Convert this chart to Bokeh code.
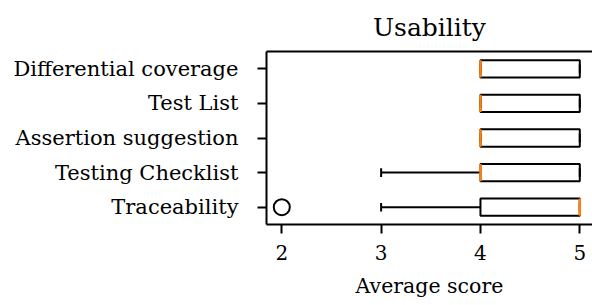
from bokeh.plotting import figure
from bokeh.models import LinearAxis, FixedTicker, Range1d, ColumnDataSource
from bokeh.embed import file_html
from bokeh.resources import INLINE

# ---- data ----
categories = ["Traceability", "Testing Checklist", "Assertion suggestion",
              "Test List", "Differential coverage"]
q1 = [4, 4, 4, 4, 4]
median = [5, 4, 4, 4, 4]
q3 = [5, 5, 5, 5, 5]
whisker_low = [3, 3, 4, 4, 4]
whisker_high = [5, 5, 5, 5, 5]
outlier_category = ["Traceability"]
outlier_value = [2]
x_ticks = [2, 3, 4, 5]

FONT = "DejaVu Serif"
BOX_H = 0.5
CAP_H = 0.25

ypos = [i + 1 for i in range(len(categories))]
src = ColumnDataSource(dict(
    y=ypos, q1=q1, med=median, q3=q3, lo=whisker_low, hi=whisker_high,
    ylo=[y - BOX_H / 2 for y in ypos], yhi=[y + BOX_H / 2 for y in ypos],
    clo=[y - CAP_H / 2 for y in ypos], chi=[y + CAP_H / 2 for y in ypos],
))
out_src = ColumnDataSource(dict(
    x=outlier_value, y=[ypos[categories.index(c)] for c in outlier_category]))

p = figure(width=592, height=305,
           x_range=Range1d(1.846, 5.128), y_range=Range1d(0.5, 5.5),
           output_backend="svg", toolbar_location=None,
           title="Usability",
           min_border_left=266, min_border_right=0,
           min_border_top=46, min_border_bottom=81)
p.outline_line_color = None
p.xgrid.visible = False
p.ygrid.visible = False
p.background_fill_color = "white"
p.border_fill_color = "white"

p.title.align = "center"
p.title.text_font = FONT
p.title.text_font_size = "25px"
p.title.text_font_style = "normal"
p.title.text_color = "black"
p.title.standoff = 20

xax = p.below[0]
yax = p.left[0]

for ax in (xax, yax):
    ax.axis_line_width = 2
    ax.axis_line_color = "black"
    ax.major_tick_line_width = 2
    ax.major_tick_line_color = "black"
    ax.major_tick_in = 0
    ax.major_tick_out = 9
    ax.minor_tick_line_color = None
    ax.major_label_text_font = FONT
    ax.major_label_text_color = "black"

xax.major_label_text_font_size = "20px"
xax.ticker = FixedTicker(ticks=x_ticks)
xax.major_label_standoff = 11
xax.axis_label = "Average score"
xax.axis_label_text_font = FONT
xax.axis_label_text_font_size = "20.5px"
xax.axis_label_text_font_style = "normal"
xax.axis_label_text_color = "black"
xax.axis_label_standoff = 11

yax.major_label_text_font_size = "21px"
yax.ticker = FixedTicker(ticks=ypos)
yax.major_label_overrides = {y: c for y, c in zip(ypos, categories)}
yax.major_label_standoff = 19

# extra top axis, only to draw the top frame line
top = LinearAxis(ticker=FixedTicker(ticks=[]), axis_line_width=2,
                 axis_line_color="black", major_tick_line_color=None,
                 minor_tick_line_color=None, major_label_text_font_size="0px")
p.add_layout(top, "above")

# boxes
p.quad(left="q1", right="q3", bottom="ylo", top="yhi", source=src,
       fill_color="white", line_color="black", line_width=2)
# whiskers
p.segment(x0="lo", y0="y", x1="q1", y1="y", source=src,
          line_color="black", line_width=2)
p.segment(x0="q3", y0="y", x1="hi", y1="y", source=src,
          line_color="black", line_width=2)
# caps
p.segment(x0="lo", y0="clo", x1="lo", y1="chi", source=src,
          line_color="black", line_width=2)
p.segment(x0="hi", y0="clo", x1="hi", y1="chi", source=src,
          line_color="black", line_width=2)
# medians
p.segment(x0="med", y0="ylo", x1="med", y1="yhi", source=src,
          line_color="#ff7f0e", line_width=2.5)
# outliers
p.scatter(x="x", y="y", source=out_src, size=16, marker="circle",
          fill_color=None, line_color="black", line_width=2)

open("out.html", "w").write(file_html(p, INLINE))
